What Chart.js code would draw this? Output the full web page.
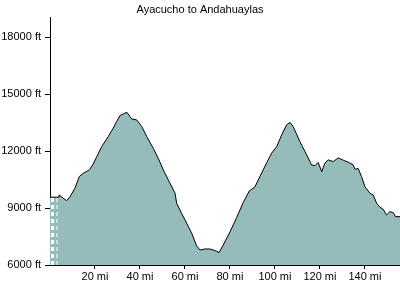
<!DOCTYPE html>
<html>
<head>
<meta charset="utf-8">
<script src="https://cdn.jsdelivr.net/npm/chart.js@4/dist/chart.umd.min.js"></script>
<style>
html,body{margin:0;padding:0;background:#fff;}
#c{display:block;}
</style>
</head>
<body>
<canvas id="c" width="400" height="300"></canvas>
<script>
const title = "Ayacucho to Andahuaylas";
const miles = [0,3.6,4.0,5.9,7.4,8.9,11.1,13.0,14.8,17.5,19.0,20.8,23.0,25.9,28.1,29.6,31.1,33.3,34.2,36.3,38.5,40.8,43.0,45.9,48.1,50.4,52.6,55.6,56.3,58.5,60.8,63.0,65.2,66.7,68.9,71.1,73.3,75.2,77.0,80.0,83.0,85.9,88.6,91.1,93.3,96.3,98.5,100.8,103.0,105.2,106.7,108.1,111.1,114.1,116.3,117.8,119.2,120.8,122.2,123.7,125.9,128.1,130.4,132.6,134.8,135.6,137.0,138.5,140.0,142.2,143.7,145.2,146.7,148.1,149.6,151.1,152.6,153.6,155.6];
const elevationFt = [9570,9570,9690,9516,9390,9600,10044,10655,10834,11008,11272,11710,12237,12764,13207,13555,13871,13998,14040,13697,13644,13291,12764,12152,11625,11008,10481,9780,9253,8726,8198,7671,7002,6791,6844,6844,6764,6659,7054,7740,8504,9295,9901,10112,10655,11377,11889,12237,12854,13381,13513,13291,12500,11799,11272,11235,11404,10919,11362,11536,11446,11641,11520,11414,11272,11035,11087,10655,10128,9780,9690,9253,9042,8937,8636,8810,8757,8546,8546];
const markerMiles = [1.1, 3.1];
const yTicks = [6000, 9000, 12000, 15000, 18000];
const xTicks = [20, 40, 60, 80, 100, 120, 140];

const profile = miles.map((m, i) => ({x: m, y: elevationFt[i]}));
const markerTop = elevationFt[0];
const markerSets = markerMiles.map((m, i) => ({
  data: [{x: m, y: 6000}, {x: m, y: markerTop}],
  borderColor: '#ffffff',
  borderWidth: i === 0 ? 3 : 1,
  borderDash: [4, 3],
  pointRadius: 0,
  fill: false,
  order: 1
}));

const font = {family: '"Liberation Sans", Arial, sans-serif', size: 11};

new Chart(document.getElementById('c'), {
  type: 'line',
  data: {
    datasets: [
      {
        data: profile,
        borderColor: '#000000',
        borderWidth: 1,
        backgroundColor: '#95BBBB',
        fill: 'start',
        pointRadius: 0,
        tension: 0,
        order: 2
      },
      ...markerSets
    ]
  },
  options: {
    responsive: false,
    animation: false,
    devicePixelRatio: 1,
    layout: {padding: {left: 0, right: 0, top: 0, bottom: 0}},
    plugins: {
      legend: {display: false},
      tooltip: {enabled: false},
      title: {
        display: true,
        text: title,
        color: '#000',
        font: {family: font.family, size: 11, weight: 'normal'},
        padding: {top: 3, bottom: 1}
      }
    },
    scales: {
      x: {
        type: 'linear',
        min: 0,
        max: 155.6,
        afterFit: s => { s.height = 35; },
        afterBuildTicks: s => { s.ticks = xTicks.map(v => ({value: v})); },
        ticks: {
          color: '#000',
          font: font,
          padding: 1,
          maxRotation: 0,
          autoSkip: false,
          callback: v => v + ' mi'
        },
        grid: {drawOnChartArea: false, color: '#000', tickLength: 4},
        border: {color: '#000', width: 1}
      },
      y: {
        type: 'linear',
        min: 6000,
        max: 19050,
        afterFit: s => { s.width = 50; },
        afterBuildTicks: s => { s.ticks = yTicks.map(v => ({value: v})); },
        ticks: {
          color: '#000',
          font: font,
          padding: 4,
          autoSkip: false,
          callback: v => v + ' ft'
        },
        grid: {drawOnChartArea: false, color: '#000', tickLength: 5},
        border: {color: '#000', width: 1}
      }
    }
  }
});
</script>
</body>
</html>
